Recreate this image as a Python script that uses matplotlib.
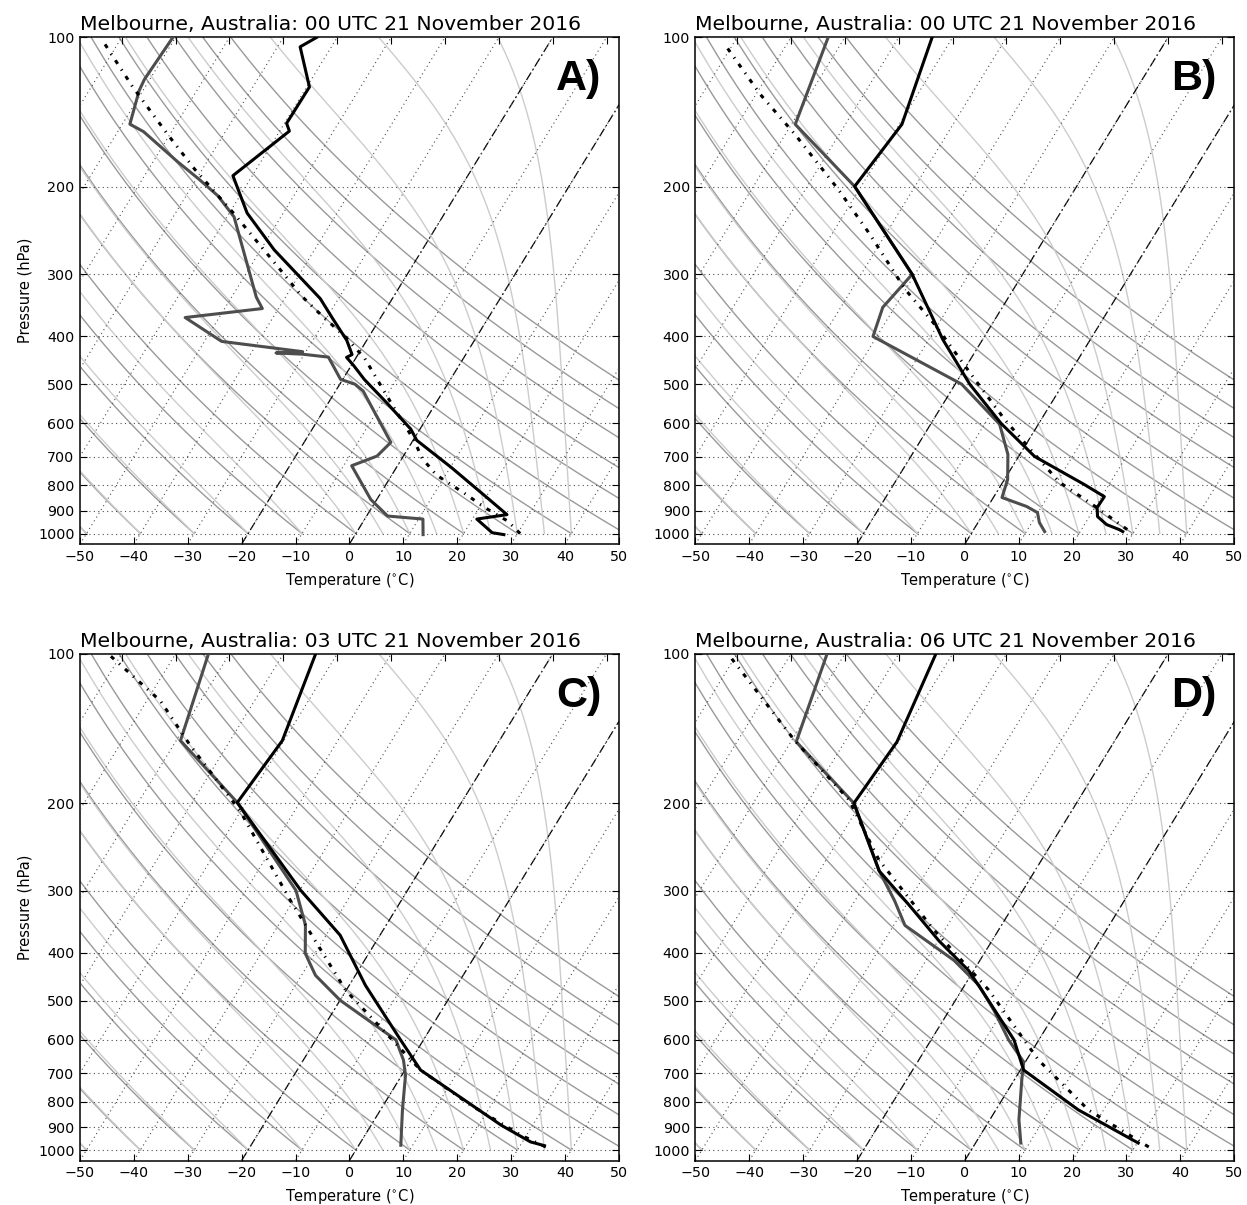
import numpy as np
import matplotlib
matplotlib.use("Agg")
import matplotlib.pyplot as plt
from contextlib import ExitStack
from matplotlib.axes import Axes
import matplotlib.axis as maxis
from matplotlib.projections import register_projection
import matplotlib.spines as mspines
import matplotlib.transforms as transforms
from matplotlib.ticker import MultipleLocator, NullLocator, ScalarFormatter, NullFormatter


# ---------------------------------------------------------------------------
# Skew-T axes (skewed x axis in axes coordinates, log-pressure y axis)
# ---------------------------------------------------------------------------
class SkewXTick(maxis.XTick):
    def draw(self, renderer):
        with ExitStack() as stack:
            for artist in [self.gridline, self.tick1line, self.tick2line,
                           self.label1, self.label2]:
                stack.callback(artist.set_visible, artist.get_visible())
            needs_lower = transforms.interval_contains(
                self.axes.lower_xlim, self.get_loc())
            needs_upper = transforms.interval_contains(
                self.axes.upper_xlim, self.get_loc())
            self.tick1line.set_visible(self.tick1line.get_visible() and needs_lower)
            self.label1.set_visible(self.label1.get_visible() and needs_lower)
            self.tick2line.set_visible(self.tick2line.get_visible() and needs_upper)
            self.label2.set_visible(self.label2.get_visible() and needs_upper)
            super().draw(renderer)

    def get_view_interval(self):
        return self.axes.xaxis.get_view_interval()


class SkewXAxis(maxis.XAxis):
    def _get_tick(self, major):
        return SkewXTick(self.axes, None, major=major)

    def get_view_interval(self):
        return self.axes.upper_xlim[0], self.axes.lower_xlim[1]


class SkewSpine(mspines.Spine):
    def _adjust_location(self):
        pts = self._path.vertices
        if self.spine_type == 'top':
            pts[:, 0] = self.axes.upper_xlim
        else:
            pts[:, 0] = self.axes.lower_xlim


class SkewXAxes(Axes):
    name = 'skewx'

    def _init_axis(self):
        self.xaxis = SkewXAxis(self)
        self.spines.top.register_axis(self.xaxis)
        self.spines.bottom.register_axis(self.xaxis)
        self.yaxis = maxis.YAxis(self)
        self.spines.left.register_axis(self.yaxis)
        self.spines.right.register_axis(self.yaxis)

    def _gen_axes_spines(self):
        return {'top': SkewSpine.linear_spine(self, 'top'),
                'bottom': mspines.Spine.linear_spine(self, 'bottom'),
                'left': mspines.Spine.linear_spine(self, 'left'),
                'right': mspines.Spine.linear_spine(self, 'right')}

    def _set_lim_and_transforms(self):
        rot = 30
        super()._set_lim_and_transforms()
        self.transDataToAxes = (self.transScale + self.transLimits
                                + transforms.Affine2D().skew_deg(rot, 0))
        self.transData = self.transDataToAxes + self.transAxes
        self._xaxis_transform = (
            transforms.blended_transform_factory(
                self.transScale + self.transLimits,
                transforms.IdentityTransform())
            + transforms.Affine2D().skew_deg(rot, 0)
            + self.transAxes)

    @property
    def lower_xlim(self):
        return self.axes.viewLim.intervalx

    @property
    def upper_xlim(self):
        pts = [[0., 1.], [1., 1.]]
        return self.transDataToAxes.inverted().transform(pts)[:, 0]


register_projection(SkewXAxes)

# ---------------------------------------------------------------------------
# Soundings: pressure (hPa) and temperature (degC)
# ---------------------------------------------------------------------------
titles = ["Melbourne, Australia: 00 UTC 21 November 2016",
          "Melbourne, Australia: 00 UTC 21 November 2016",
          "Melbourne, Australia: 03 UTC 21 November 2016",
          "Melbourne, Australia: 06 UTC 21 November 2016"]
panel_labels = ["A)", "B)", "C)", "D)"]

# Panel A
a_temp_p = [1005, 996, 935, 916, 847, 736, 649, 616, 544, 489, 459, 441.5, 435.8,
            408, 368, 336, 268, 226, 207, 190, 154.5, 149, 125.9, 104.5, 100]
a_temp_t = [27.6, 25.2, 20.8, 25.9, 20.3, 10.2, 0.7, -1.7, -9.3, -16.0, -19.5, -21.8,
            -21.1, -23.7, -28.9, -33.4, -47.5, -56.7, -60.2, -63.6, -58.2, -59.6,
            -59.5, -65.8, -63.8]
a_dewp_p = [1005, 935, 922, 854, 730, 698, 655, 516, 500, 489, 441, 435, 432.5,
            430, 410, 367, 352, 334, 230, 208.6, 192.6, 178, 154.9, 149.6, 128,
            121.5, 100]
a_dewp_t = [12.6, 10.8, 3.9, -1.1, -8.5, -4.9, -3.9, -14.9, -17.2, -20.4, -25.2,
            -30.4, -35.4, -30.6, -46.8, -56.3, -43.0, -45.4, -58.7, -64.1, -69.7,
            -75.5, -85.2, -88.6, -90.7, -91.0, -90.5]
a_parc_p = [1000, 943.1, 889.6, 830, 762.4, 706.3, 647.5, 554, 443.7, 402.5, 355.4,
            332.3, 287.3, 225.4, 184.5, 157.8, 125.9, 103.1]
a_parc_t = [30.5, 26.7, 21.3, 15.6, 8.3, 3.8, 0.1, -7.6, -18.3, -24.2, -32.7,
            -37.1, -45.4, -59.4, -71.4, -80.1, -92.3, -102.4]

# Panel B
b_temp_p = [990.9, 981.6, 959.2, 924.1, 886.2, 842.6, 796.5, 699.5, 600, 500,
            406.3, 300.3, 199.7, 149.7, 100]
b_temp_t = [27.9, 27.0, 24.1, 21.5, 20.4, 20.5, 15.4, 3.0, -7.0, -17.3, -27.4,
            -40.5, -61.2, -59.5, -63.8]
b_dewp_p = [990.9, 950.3, 907.3, 882, 846, 778.4, 693, 602, 500, 400.7, 350,
            300.3, 199.7, 149.7, 100]
b_dewp_t = [13.4, 11.4, 9.9, 7.2, 1.6, 0.6, -2.2, -7.2, -18.8, -40.7, -42.2,
            -40.5, -61.2, -79.3, -83.1]
b_parc_p = [981.6, 874, 789, 693, 589, 489, 379, 322, 249.5, 202.5, 156.9,
            130.3, 103.3]
b_parc_t = [28.5, 19.2, 10.6, 2.8, -6.8, -16.9, -30.6, -40.1, -52.9, -63.9,
            -78.2, -89.2, -101.5]

# Panel C
c_temp_p = [980, 963, 890.7, 690, 600.5, 465.6, 369, 299.8, 199.4, 149.6, 100]
c_temp_t = [34.5, 31.5, 24.1, 2.9, -4.2, -17.0, -27.4, -39.8, -61.6, -60.3, -64.0]
c_dewp_p = [978, 831, 707, 659, 600, 499, 444.6, 401.5, 352, 299.8, 199.4,
            149.6, 100]
c_dewp_t = [7.8, 4.1, 0.7, -1.4, -5.1, -20.0, -27.4, -31.8, -35.0, -40.7,
            -61.6, -79.2, -83.9]
c_parc_p = [986, 932.8, 812, 690, 476.4, 314, 207, 153.1, 124.3, 100.9]
c_parc_t = [34.9, 28.9, 16.2, 2.9, -20.1, -40.6, -60.2, -76.8, -87.5, -101.9]

# Panel D
d_temp_p = [968, 830, 689.8, 600, 500, 435, 379, 320.6, 273.8, 200, 150.4, 100]
d_temp_t = [30.2, 15.3, 0.6, -4.6, -13.8, -20.9, -29.8, -39.5, -48.9, -61.3,
            -60.3, -63.1]
d_dewp_p = [968, 869, 722.6, 664.6, 600, 523, 466, 414.8, 352.6, 314, 273.8,
            200, 150.4, 100]
d_dewp_t = [8.4, 5.4, 1.4, -0.3, -5.6, -11.7, -17.3, -24.8, -37.9, -42.7,
            -48.9, -61.3, -79.0, -83.3]
d_parc_p = [986, 830.6, 658.4, 475.9, 360.2, 260.2, 196.9, 149.1, 100.9]
d_parc_t = [32.6, 17.2, 2.2, -15.0, -32.0, -50.2, -62.6, -79.6, -101.2]

soundings = [
    (a_temp_p, a_temp_t, a_dewp_p, a_dewp_t, a_parc_p, a_parc_t),
    (b_temp_p, b_temp_t, b_dewp_p, b_dewp_t, b_parc_p, b_parc_t),
    (c_temp_p, c_temp_t, c_dewp_p, c_dewp_t, c_parc_p, c_parc_t),
    (d_temp_p, d_temp_t, d_dewp_p, d_dewp_t, d_parc_p, d_parc_t),
]

# Background reference lines
dry_theta = np.arange(-50, 101, 10)          # potential temperature, degC
moist_t0 = [-50, -40, -30, -20, -10, 0, 5, 10, 15, 20, 25, 30, 35, 40]
highlight_isotherms = [0, -20]

# ---------------------------------------------------------------------------
# Thermodynamics for the background curves
# ---------------------------------------------------------------------------
RD, CP, LV, EPS = 287.04, 1005.7, 2.501e6, 0.622
KAPPA = RD / CP
p_levels = np.linspace(1000, 100, 361)


def sat_vapor_pressure(tk):
    return 6.112 * np.exp(17.67 * (tk - 273.15) / (tk - 29.65))


def moist_dtdp(tk, p):
    es = sat_vapor_pressure(tk)
    rs = EPS * es / (p - es)
    return (RD * tk + LV * rs) / (CP + LV * LV * rs * EPS / (RD * tk * tk)) / p


def moist_adiabat(t0c, p):
    tk = np.empty_like(p)
    tk[0] = t0c + 273.15
    for i in range(len(p) - 1):
        h = p[i + 1] - p[i]
        t, pp = tk[i], p[i]
        k1 = moist_dtdp(t, pp)
        k2 = moist_dtdp(t + 0.5 * h * k1, pp + 0.5 * h)
        k3 = moist_dtdp(t + 0.5 * h * k2, pp + 0.5 * h)
        k4 = moist_dtdp(t + h * k3, pp + h)
        tk[i + 1] = t + h * (k1 + 2 * k2 + 2 * k3 + k4) / 6.0
    return tk - 273.15


# ---------------------------------------------------------------------------
# Figure
# ---------------------------------------------------------------------------
fig = plt.figure(figsize=(12.47, 12.05), dpi=100)
plt.rcParams['font.family'] = ['DejaVu Sans']

positions = [(0.0642, 0.5485), (0.5577, 0.5485), (0.0642, 0.0369), (0.5577, 0.0369)]
W, H = 0.432, 0.4205

parcel_style = (0, (1.4, 2.2, 0.4, 2.2))

for i, (pos, snd) in enumerate(zip(positions, soundings)):
    ax = fig.add_axes([pos[0], pos[1], W, H], projection='skewx')
    tp, tt, dp, dt, pp_, pt = snd

    for th in dry_theta:
        t = (th + 273.15) * (p_levels / 1000.0) ** KAPPA - 273.15
        ax.semilogy(t, p_levels, color='0.6', lw=1.0, zorder=1)
    for t0 in moist_t0:
        ax.semilogy(moist_adiabat(t0, p_levels), p_levels, color='0.8',
                    lw=1.0, zorder=1)
    for iso in highlight_isotherms:
        ax.axvline(iso, color='k', lw=0.9, ls=(0, (7, 2.5, 1.2, 2.5)), zorder=2)

    ax.semilogy(dt, dp, color='0.3', lw=2.2, zorder=4)
    ax.semilogy(tt, tp, color='k', lw=2.2, zorder=5)
    ax.semilogy(pt, pp_, color='k', lw=2.2, ls=parcel_style, zorder=6)

    ax.grid(True, color='0.3', ls=(0, (1, 3)), lw=0.8)
    ax.set_axisbelow(False)

    ax.yaxis.set_major_formatter(ScalarFormatter())
    ax.yaxis.set_minor_formatter(NullFormatter())
    ax.yaxis.set_minor_locator(NullLocator())
    ax.set_yticks(np.linspace(100, 1000, 10))
    ax.set_ylim(1050, 100)
    ax.xaxis.set_major_locator(MultipleLocator(10))
    ax.set_xlim(-50, 50)

    ax.tick_params(direction='in', top=True, right=True, length=5,
                   width=0.8, labelsize=10.3, pad=4)
    for s in ax.spines.values():
        s.set_linewidth(1.1)

    ax.set_xlabel(r'Temperature ($^{\circ}$C)', fontsize=10.5, labelpad=5)
    if i % 2 == 0:
        ax.set_ylabel('Pressure (hPa)', fontsize=10.5, labelpad=4)
    ax.set_title(titles[i], loc='left', fontsize=14.7, pad=5)
    ax.text(0.968, 0.957, panel_labels[i], transform=ax.transAxes,
            ha='right', va='top', fontsize=31, fontweight='bold',
            family='Liberation Sans', zorder=10)

fig.savefig('out.png', dpi=100, facecolor='white')
